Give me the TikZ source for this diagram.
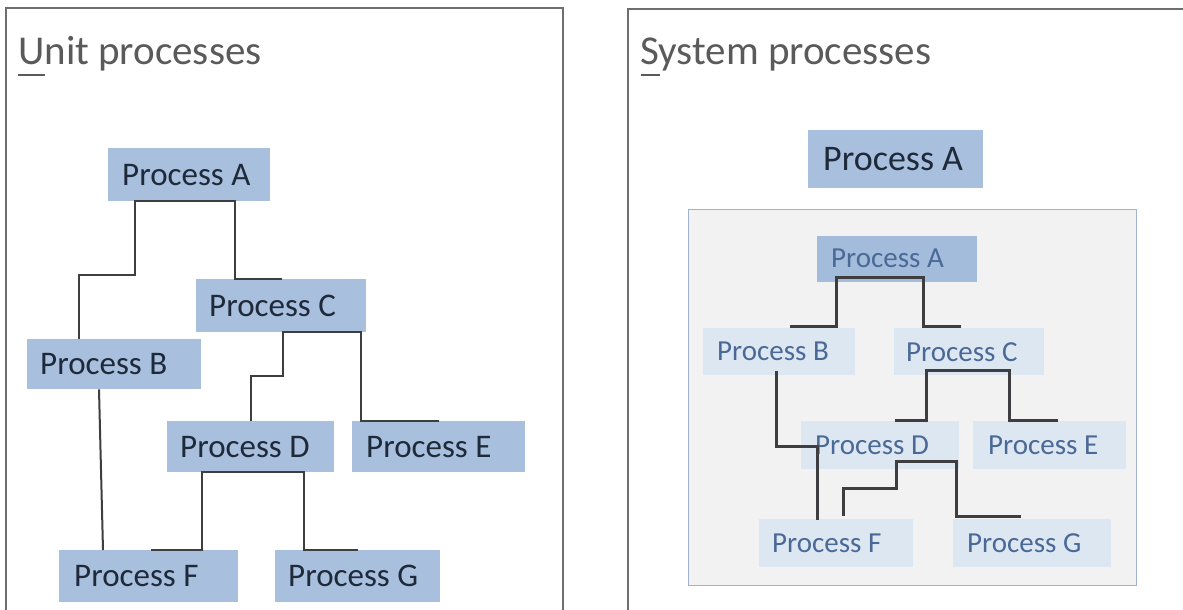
\documentclass[tikz,border=0pt]{standalone}
\usepackage{fontspec}
\setmainfont{Carlito}
\usetikzlibrary{calc}
\definecolor{boxblue}{RGB}{168,191,221}
\definecolor{boxinner}{RGB}{164,188,220}
\definecolor{boxlight}{RGB}{221,231,242}
\definecolor{contfill}{RGB}{242,242,243}
\definecolor{contline}{RGB}{160,178,204}
\definecolor{darktext}{RGB}{30,42,58}
\definecolor{bluetext}{RGB}{74,105,150}
\definecolor{connline}{RGB}{62,62,64}
\definecolor{panelline}{RGB}{110,110,110}
\definecolor{titlegray}{RGB}{90,90,90}
\begin{document}
\begin{tikzpicture}[x=1pt,y=-1pt,
  panel/.style={draw=panelline,line width=2.5pt},
  ubox/.style={rectangle,fill=boxblue,inner sep=0pt,anchor=north west},
  ibox/.style={rectangle,fill=boxlight,inner sep=0pt,anchor=north west},
  utext/.style={anchor=west,inner sep=0pt,text=darktext,font=\fontsize{33pt}{40pt}\selectfont},
  itext/.style={anchor=west,inner sep=0pt,text=bluetext,font=\fontsize{29pt}{35pt}\selectfont},
  conn/.style={draw=connline,line width=2pt},
  iconn/.style={draw=connline,line width=3pt},
  ttl/.style={anchor=base west,inner sep=0pt,text=titlegray,font=\fontsize{41pt}{49pt}\selectfont}
]
\useasboundingbox (0,0) rectangle (1183,610);
\clip (0,0) rectangle (1183,610);
\fill[white] (0,0) rectangle (1183,610);

% panels
\draw[panel] (6,630) |- (563,8) -- (563,630);
\draw[panel] (628,630) |- (1200,9);

% titles
\node[ttl] (tU) at (18,64) {Unit processes};
\draw[titlegray,line width=2pt] ($(tU.base west)+(0,11)$) -- ++(27,0);
\node[ttl] (tS) at (640,64) {System processes};
\draw[titlegray,line width=2pt] ($(tS.base west)+(1,11)$) -- ++(19,0);

% ---------- left panel ----------
\node[ubox,minimum width=162pt,minimum height=53pt] (LA) at (108,148) {};
\node[ubox,minimum width=170pt,minimum height=53pt] (LC) at (196,279) {};
\node[ubox,minimum width=174pt,minimum height=50pt] (LB) at (27,339) {};
\node[ubox,minimum width=167pt,minimum height=51pt] (LD) at (167,421) {};
\node[ubox,minimum width=173pt,minimum height=51pt] (LE) at (352,421) {};
\node[ubox,minimum width=179pt,minimum height=52pt] (LF) at (59,550) {};
\node[ubox,minimum width=165pt,minimum height=52pt] (LG) at (275,550) {};

\node[utext] (LAt) at ($(LA.west)+(14,0)$) {Process A};
\node[utext] (LCt) at ($(LC.west)+(13,0)$) {Process C};
\node[utext] (LBt) at ($(LB.west)+(13,0)$) {Process B};
\node[utext] (LDt) at ($(LD.west)+(13,0)$) {Process D};
\node[utext] (LEt) at ($(LE.west)+(14,0)$) {Process E};
\node[utext] (LFt) at ($(LF.west)+(15,0)$) {Process F};
\node[utext] (LGt) at ($(LG.west)+(13,0)$) {Process G};

\draw[conn] ($(LB.north west)+(52,0)$) |- ($(LA.south west)+(27,74)$)
  -- ($(LA.south west)+(27,0)$) -- ($(LA.south west)+(127,0)$)
  |- ($(LC.north west)+(86,0)$);
\draw[conn] ($(LD.north west)+(84,0)$) |- ($(LC.south west)+(87,44)$)
  -- ($(LC.south west)+(87,0)$) -- ($(LC.south west)+(165,0)$)
  |- ($(LE.north west)+(87,0)$);
\draw[conn] ($(LB.south west)+(72,0)$) -- ($(LF.north west)+(44,0)$);
\draw[conn] ($(LF.north west)+(92,0)$) -| ($(LD.south west)+(35,0)$)
  -- ($(LD.south west)+(137,0)$) |- ($(LG.north west)+(83,0)$);

% ---------- right panel ----------
\node[ubox,minimum width=175pt,minimum height=58pt] (RA) at (808,130) {};
\node[anchor=west,inner sep=0pt,text=darktext,font=\fontsize{36pt}{43pt}\selectfont] (RAt) at ($(RA.west)+(15,0)$) {Process A};

\node[rectangle,draw=contline,line width=1pt,fill=contfill,inner sep=0pt,anchor=north west,
  minimum width=448pt,minimum height=376pt] (CT) at (688,209) {};

\node[ubox,fill=boxinner,minimum width=160pt,minimum height=46pt] (IA) at (817,236) {};
\node[ibox,minimum width=152pt,minimum height=47pt] (IB) at (703,328) {};
\node[ibox,minimum width=150pt,minimum height=47pt] (IC) at (894,328) {};
\node[ibox,minimum width=158pt,minimum height=48pt] (ID) at (801,421) {};
\node[ibox,minimum width=153pt,minimum height=48pt] (IE) at (973,421) {};
\node[ibox,minimum width=154pt,minimum height=48pt] (IF) at (759,519) {};
\node[ibox,minimum width=158pt,minimum height=48pt] (IG) at (953,519) {};

\node[itext] (IAt) at ($(IA.west)+(14,-1)$) {Process A};
\node[itext] (IBt) at ($(IB.west)+(14,0)$) {Process B};
\node[itext] (ICt) at ($(IC.west)+(12,0)$) {Process C};
\node[itext] (IDt) at ($(ID.west)+(14,0)$) {Process D};
\node[itext] (IEt) at ($(IE.west)+(15,0)$) {Process E};
\node[itext] (IFt) at ($(IF.west)+(13,0)$) {Process F};
\node[itext] (IGt) at ($(IG.west)+(14,0)$) {Process G};

\draw[iconn] ($(IB.north west)+(87,-2)$) -| ($(IA.south west)+(19,-5)$)
  -- ($(IA.south west)+(106,-5)$) |- ($(IC.north west)+(67,-2)$);
\draw[iconn] ($(ID.north west)+(94,-1)$) -| ($(IC.south west)+(32,-5)$)
  -- ($(IC.south west)+(115,-5)$) |- ($(IE.north west)+(85,-1)$);
\draw[iconn] ($(IB.south west)+(73,-4)$) |- ($(IF.north west)+(58,-73)$)
  -- ($(IF.north west)+(58,1)$);
\draw[iconn] ($(IF.north west)+(84,-3)$) |- ($(ID.south west)+(95,19)$)
  -- ($(ID.south west)+(95,-8)$) -- ($(ID.south west)+(155,-8)$)
  |- ($(IG.north west)+(68,-3)$);
\end{tikzpicture}
\end{document}
